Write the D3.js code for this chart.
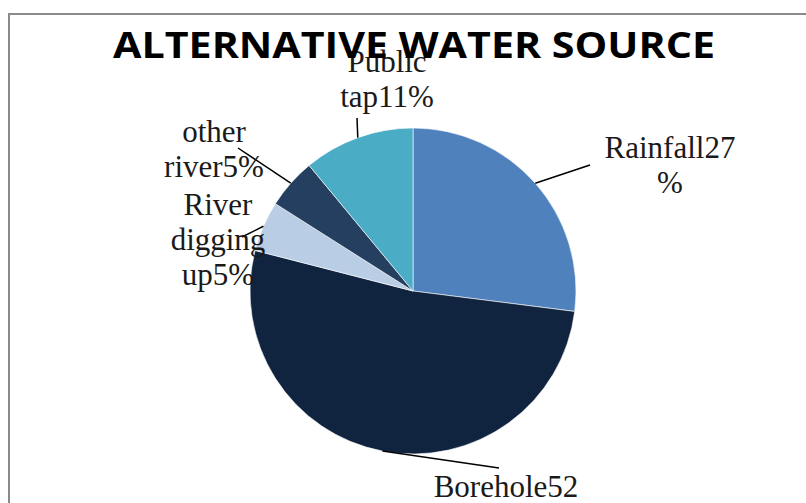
<!DOCTYPE html>
<meta charset="utf-8">
<style>
  body { margin: 0; background: #fff; }
</style>
<body>
<div id="chart"></div>

<script src="https://d3js.org/d3.v7.min.js"></script>
<script>
// data
var categories = ["Rainfall", "Borehole", "River digging up", "other river", "Public tap"];
var values = [27, 52, 5, 5, 11];
var labelLines = [["Rainfall27", "%"], ["Borehole52"], ["River", "digging", "up5%"], ["other", "river5%"], ["Public", "tap11%"]];
var colors = ["#4f81bd", "#10243f", "#b9cde5", "#243f60", "#4bacc6"];

// label anchors, offsets from the pie centre (text centre, first baseline, leader end)
var labelPos = [
  {tx: 257, ty: -133, lx: 177, ly: -126},
  {tx: 93, ty: 206, lx: 86, ly: 177},
  {tx: -195, ty: -76, lx: -171, ly: -54},
  {tx: -199, ty: -149, lx: -175, ly: -143},
  {tx: -26, ty: -219, lx: -56, ly: -173}
];

var width = 806, height = 503;
var cx = 413, cy = 291, radius = 163;
var lineH = 35;

var svg = d3.select("#chart").append("svg")
    .attr("width", width)
    .attr("height", height);

// chart frame
svg.append("path")
    .attr("d", "M9," + height + " V14 H" + width)
    .attr("fill", "none")
    .attr("stroke", "#8a8a8a")
    .attr("stroke-width", 2);

var g = svg.append("g")
    .attr("transform", "translate(" + cx + "," + cy + ")");

var pie = d3.pie().sort(null).value(function(d) { return d; });
var arc = d3.arc().innerRadius(0).outerRadius(radius);
var arcs = pie(values);

g.selectAll(".slice")
    .data(arcs)
  .enter().append("path")
    .attr("class", "slice")
    .attr("d", arc)
    .attr("fill", function(d, i) { return colors[i]; })
    .attr("stroke", "#ffffff")
    .attr("stroke-width", 0.6);

// leader lines from the slice edge at its mid angle
g.selectAll(".leader")
    .data(arcs)
  .enter().append("line")
    .attr("class", "leader")
    .attr("x1", function(d) { var a = (d.startAngle + d.endAngle) / 2; return radius * Math.sin(a); })
    .attr("y1", function(d) { var a = (d.startAngle + d.endAngle) / 2; return -radius * Math.cos(a); })
    .attr("x2", function(d, i) { return labelPos[i].lx; })
    .attr("y2", function(d, i) { return labelPos[i].ly; })
    .attr("stroke", "#000")
    .attr("stroke-width", 1.5);

// labels
var labels = g.selectAll(".label")
    .data(arcs)
  .enter().append("text")
    .attr("class", "label")
    .attr("text-anchor", "middle")
    .style("font-family", "'Liberation Serif', 'Times New Roman', serif")
    .style("font-size", "31px")
    .attr("fill", "#1a1a1a");

labels.each(function(d, i) {
  var t = d3.select(this);
  labelLines[i].forEach(function(s, k) {
    t.append("tspan")
        .attr("x", labelPos[i].tx)
        .attr("y", labelPos[i].ty + k * lineH)
        .text(s);
  });
});

// title
svg.append("text")
    .attr("x", 414)
    .attr("y", 58)
    .attr("text-anchor", "middle")
    .attr("textLength", 602)
    .attr("lengthAdjust", "spacingAndGlyphs")
    .style("font-family", "'Open Sans', sans-serif")
    .style("font-weight", "bold")
    .style("font-size", "36px")
    .attr("fill", "#000")
    .text("ALTERNATIVE WATER SOURCE");
</script>
</body>
